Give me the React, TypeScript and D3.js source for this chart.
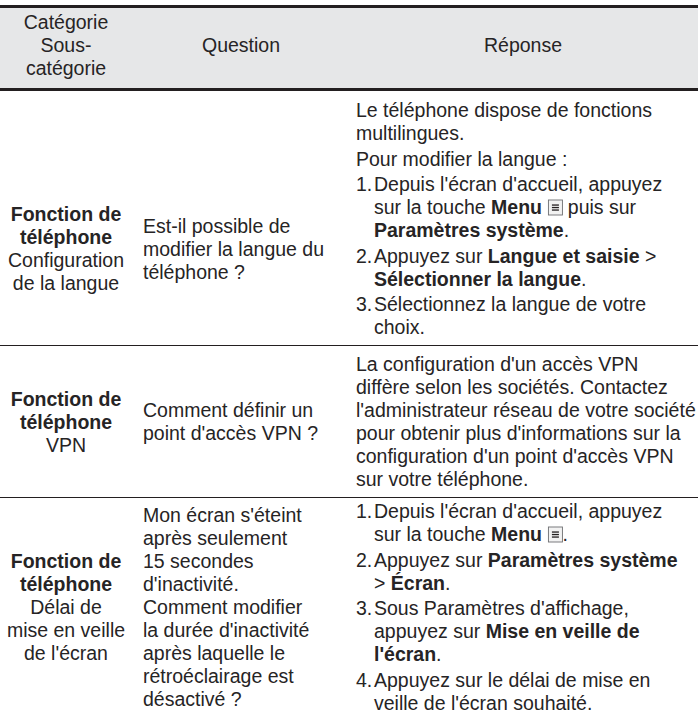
import React, { useEffect, useRef } from "react";
import * as d3 from "d3";

// ---------- data ----------
const headerCategory = ["Catégorie", "Sous-", "catégorie"];
const headerQuestion = "Question";
const headerAnswer = "Réponse";

const categoryBold = [
  ["Fonction de", "téléphone"],
  ["Fonction de", "téléphone"],
  ["Fonction de", "téléphone"],
];
const subCategory = [
  ["Configuration", "de la langue"],
  ["VPN"],
  ["Délai de", "mise en veille", "de l'écran"],
];
const questions = [
  ["Est-il possible de", "modifier la langue du", "téléphone ?"],
  ["Comment définir un", "point d'accès VPN ?"],
  [
    "Mon écran s'éteint",
    "après seulement",
    "15 secondes",
    "d'inactivité.",
    "Comment modifier",
    "la durée d'inactivité",
    "après laquelle le",
    "rétroéclairage est",
    "désactivé ?",
  ],
];

type Para = { num?: string; lines: string[] };

const answer1: Para[] = [
  { lines: ["Le téléphone dispose de fonctions", "multilingues."] },
  { lines: ["Pour modifier la langue :"] },
  {
    num: "1.",
    lines: [
      "Depuis l'écran d'accueil, appuyez",
      "sur la touche **Menu** [M] puis sur",
      "**Paramètres système**.",
    ],
  },
  { num: "2.", lines: ["Appuyez sur **Langue et saisie** >", "**Sélectionner la langue**."] },
  { num: "3.", lines: ["Sélectionnez la langue de votre", "choix."] },
];
const answer2: Para[] = [
  {
    lines: [
      "La configuration d'un accès VPN",
      "diffère selon les sociétés. Contactez",
      "l'administrateur réseau de votre société",
      "pour obtenir plus d'informations sur la",
      "configuration d'un point d'accès VPN",
      "sur votre téléphone.",
    ],
  },
];
const answer3: Para[] = [
  { num: "1.", lines: ["Depuis l'écran d'accueil, appuyez", "sur la touche **Menu** [M]."] },
  { num: "2.", lines: ["Appuyez sur **Paramètres système**", "> **Écran**."] },
  {
    num: "3.",
    lines: [
      "Sous Paramètres d'affichage,",
      "appuyez sur **Mise en veille de**",
      "**l'écran**.",
    ],
  },
  { num: "4.", lines: ["Appuyez sur le délai de mise en", "veille de l'écran souhaité."] },
];
const answers = [answer1, answer2, answer3];

// ---------- layout constants ----------
const W = 698;
const H = 724;
const FONT = "'Liberation Sans', Arial, Helvetica, sans-serif";
const FS = 19.5;
const LH = 23;
const PGAP = 2.5;
const TEXT = "#262425";
const col1Center = 66;
const col1Right = 134;
const col2X = 143;
const col2Right = 348;
const col3X = 356;
const col3Indent = 374;
const headerTop = 5;
const headerBottom = 88;
const padTops = [26, 25, 20];
const padBottom = 11;
const sideShift = [30, 0, 0];

function parse(line: string) {
  const segs: { t: string; b: boolean; icon?: boolean }[] = [];
  const re = /(\*\*[^*]+\*\*|\[M\])/g;
  let last = 0;
  let m: RegExpExecArray | null;
  while ((m = re.exec(line))) {
    if (m.index > last) segs.push({ t: line.slice(last, m.index), b: false });
    if (m[0] === "[M]") segs.push({ t: "", b: false, icon: true });
    else segs.push({ t: m[0].slice(2, -2), b: true });
    last = m.index + m[0].length;
  }
  if (last < line.length) segs.push({ t: line.slice(last), b: false });
  return segs;
}

export default function App() {
  const ref = useRef<SVGSVGElement>(null);

  useEffect(() => {
    const svg = d3.select(ref.current);
    svg.selectAll("*").remove();

    const txt = (g: any, x: number, y: number, s: string, bold = false, anchor = "start") =>
      g
        .append("text")
        .attr("x", x)
        .attr("y", y)
        .attr("font-family", FONT)
        .attr("font-size", FS)
        .attr("font-weight", bold ? "bold" : "normal")
        .attr("fill", TEXT)
        .attr("text-anchor", anchor)
        .text(s);

    // header
    svg
      .append("rect")
      .attr("x", 0)
      .attr("y", headerTop)
      .attr("width", W)
      .attr("height", headerBottom - headerTop)
      .attr("fill", "#e6e7e8");
    svg.append("rect").attr("x", 0).attr("y", headerTop).attr("width", W).attr("height", 3).attr("fill", "#231f20");
    svg.append("rect").attr("x", 0).attr("y", headerBottom).attr("width", W).attr("height", 3).attr("fill", "#231f20");

    const hb = [29, 52, 75];
    headerCategory.forEach((s, i) => txt(svg, col1Center, hb[i], s, false, "middle"));
    txt(svg, (col1Right + col2Right) / 2, hb[1], headerQuestion, false, "middle");
    txt(svg, (col2Right + W) / 2, hb[1], headerAnswer, false, "middle");

    // body
    let rowTop = headerBottom + 3;
    answers.forEach((paras, r) => {
      const first = rowTop + padTops[r];
      let y = first;
      const placed: { x: number; y: number; s: string }[] = [];
      paras.forEach((p, pi) => {
        if (pi > 0) y += PGAP;
        p.lines.forEach((ln, li) => {
          if (p.num && li === 0) {
            placed.push({ x: col3X, y, s: "__NUM__" + p.num });
          }
          placed.push({ x: p.num ? col3Indent : col3X, y, s: ln });
          if (li < p.lines.length - 1) y += LH;
        });
        if (pi < paras.length - 1) y += LH;
      });
      const last = y;
      const mid = (first + last) / 2 + sideShift[r];

      placed.forEach((pl) => {
        if (pl.s.startsWith("__NUM__")) {
          txt(svg, pl.x, pl.y, pl.s.slice(7));
          return;
        }
        let x = pl.x;
        parse(pl.s).forEach((seg) => {
          if (seg.icon) {
            const bx = x + 1;
            const g = svg.append("g").attr("transform", `translate(${bx},${pl.y - 14})`);
            g.append("rect")
              .attr("width", 14)
              .attr("height", 15)
              .attr("fill", "#f2f2f2")
              .attr("stroke", "#6d6e71")
              .attr("stroke-width", 0.9);
            [5, 7.5, 10].forEach((yy) =>
              g.append("rect").attr("x", 3.5).attr("y", yy - 0.6).attr("width", 7).attr("height", 1.3).attr("fill", "#231f20")
            );
            x = bx + 14;
            return;
          }
          const t = txt(svg, x, pl.y, seg.t, seg.b).attr("xml:space", "preserve").style("white-space", "pre");
          x += (t.node() as SVGTextElement).getComputedTextLength();
        });
      });

      // col1
      const c1 = [...categoryBold[r].map((s) => ({ s, b: true })), ...subCategory[r].map((s) => ({ s, b: false }))];
      const c1First = mid - ((c1.length - 1) * LH) / 2;
      c1.forEach((c, i) => txt(svg, col1Center, c1First + i * LH, c.s, c.b, "middle"));

      // col2
      const q = questions[r];
      const qFirst = mid - ((q.length - 1) * LH) / 2;
      q.forEach((s, i) => txt(svg, col2X, qFirst + i * LH, s));

      const rowBottom = last + padBottom;
      if (r < answers.length - 1) {
        svg
          .append("line")
          .attr("x1", 0)
          .attr("x2", W)
          .attr("y1", rowBottom + 0.5)
          .attr("y2", rowBottom + 0.5)
          .attr("stroke", "#231f20")
          .attr("stroke-width", 1);
      }
      rowTop = rowBottom + 1;
    });
  }, []);

  return (
    <svg
      ref={ref}
      width={W}
      height={H}
      style={{ position: "absolute", left: 0, top: 0, background: "#fff" }}
    />
  );
}
